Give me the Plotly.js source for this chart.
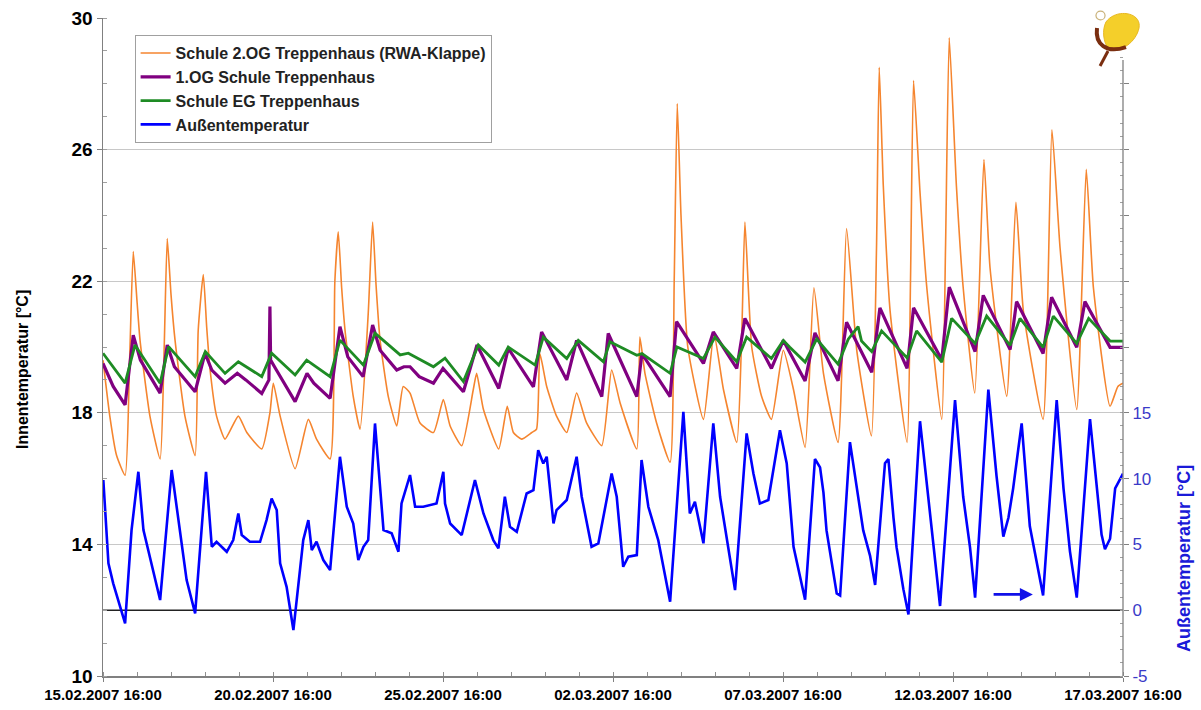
<!DOCTYPE html>
<html>
<head>
<meta charset="utf-8">
<script src="https://cdn.plot.ly/plotly-3.0.1.min.js"></script>
<style>html,body{margin:0;padding:0;background:#fff;}#chart{width:1201px;height:710px;}</style>
</head>
<body>
<div id="chart"></div>
<script>
// Time axis: days elapsed since 15.02.2007 16:00
const START = '2007-02-15 16:00';
const END = '2007-03-17 16:00';

const seriesNames = ['Schule 2.OG Treppenhaus (RWA-Klappe)', '1.OG Schule Treppenhaus', 'Schule EG Treppenhaus', 'Außentemperatur'];

// Schule 2.OG Treppenhaus (RWA-Klappe) [°C]
const og2Days = [0.00,0.20,0.40,0.65,0.78,0.89,1.00,1.09,1.38,1.68,1.80,1.89,2.00,2.12,2.41,2.71,2.80,2.95,3.05,3.15,3.34,3.59,3.98,4.23,4.67,4.91,5.01,5.21,5.65,6.04,6.28,6.68,6.82,6.92,7.02,7.12,7.36,7.56,7.80,7.93,8.03,8.15,8.39,8.64,8.83,9.03,9.32,9.72,10.01,10.21,10.55,10.89,10.99,11.19,11.64,11.89,12.07,12.31,12.61,12.75,12.85,13.05,13.34,13.64,13.93,14.22,14.67,14.96,15.21,15.70,15.79,15.94,16.28,16.68,16.80,16.89,17.00,17.20,17.66,17.97,18.25,18.64,18.79,18.88,19.08,19.37,19.66,20.01,20.31,20.65,20.91,21.19,21.62,21.87,22.17,22.60,22.75,22.83,22.95,23.15,23.65,23.75,23.84,24.03,24.23,24.67,24.78,24.89,25.10,25.30,25.64,25.91,26.09,26.58,26.85,27.07,27.65,27.91,28.15,28.64,28.92,29.13,29.62,29.85,30.00];
const og2Vals = [19.6,17.9,16.7,16.1,19.5,22.9,21.4,20.2,17.9,16.6,20.0,23.3,21.6,20.2,17.9,16.7,20.5,22.2,20.6,19.3,17.9,17.2,17.9,17.4,16.9,18.0,18.9,17.9,16.3,17.8,17.2,16.6,22.0,23.5,21.8,20.5,18.5,17.5,21.0,23.8,21.9,20.2,18.5,17.6,18.8,18.6,17.7,17.4,18.4,17.6,17.0,18.7,19.2,18.1,16.9,18.2,17.4,17.2,17.4,17.5,19.8,18.8,17.9,17.4,18.6,17.7,17.0,19.3,18.3,16.9,20.3,19.2,17.7,16.5,22.0,27.4,24.0,20.0,17.8,20.4,18.7,17.1,20.5,23.8,20.0,18.5,17.8,19.9,18.7,16.95,21.8,19.2,17.1,23.6,19.9,17.3,23.0,28.5,24.9,21.1,17.1,22.0,28.1,24.7,21.8,17.8,23.0,29.4,24.9,21.8,18.6,25.7,22.4,18.5,24.4,21.1,17.8,26.6,23.0,18.1,25.4,21.8,18.2,18.8,18.9];

// 1.OG Schule Treppenhaus [°C]
const og1Days = [0.00,0.30,0.65,0.89,1.10,1.68,1.89,2.10,2.71,3.00,3.20,3.59,3.95,4.20,4.67,4.88,4.91,4.93,5.10,5.65,6.00,6.20,6.68,6.97,7.20,7.65,7.93,8.15,8.64,8.85,9.03,9.30,9.72,10.00,10.60,11.00,11.64,11.92,12.66,12.90,13.64,13.93,14.67,14.86,15.70,15.85,16.68,16.87,17.66,17.95,18.64,18.88,19.66,20.01,20.65,20.94,21.62,21.87,22.61,22.85,23.65,23.84,24.67,24.89,25.65,25.89,26.68,26.87,27.65,27.90,28.64,28.88,29.62,30.00];
const og1Vals = [19.5,18.8,18.24,20.36,19.6,18.6,20.06,19.4,18.64,19.81,19.3,18.9,19.2,19.0,18.59,19.0,21.23,19.6,19.3,18.34,19.2,18.9,18.44,20.62,19.7,19.1,20.67,19.9,19.3,19.4,19.4,19.1,18.9,19.35,18.64,20.06,18.74,19.96,18.79,20.46,19.0,20.2,18.49,20.41,18.49,19.8,18.49,20.77,19.5,20.46,19.35,20.87,19.35,20.2,18.97,20.43,18.97,20.75,19.23,21.19,19.35,21.19,19.61,21.82,19.86,21.57,19.92,21.38,19.8,21.51,19.99,21.38,19.99,19.99];

// Schule EG Treppenhaus [°C]
const egDays = [0.00,0.65,0.94,1.68,1.93,2.71,3.01,3.59,3.98,4.67,4.96,5.65,5.99,6.68,6.97,7.66,8.00,8.74,8.98,9.72,10.06,10.60,11.04,11.64,11.92,12.71,12.95,13.64,13.98,14.72,14.91,15.70,15.85,16.68,16.88,17.66,18.00,18.64,18.93,19.66,20.01,20.20,20.65,20.99,21.62,21.92,22.21,22.31,22.61,22.90,23.65,23.93,24.67,24.96,25.65,25.99,26.68,26.97,27.65,27.95,28.64,28.99,29.62,30.00];
const egVals = [19.81,18.90,20.06,18.90,20.01,19.10,19.86,19.20,19.55,19.10,19.81,19.15,19.60,19.10,20.21,19.45,20.42,19.76,19.81,19.40,19.66,18.95,20.06,19.45,20.00,19.45,20.30,19.65,20.20,19.55,20.16,19.75,19.80,19.20,20.00,19.65,20.30,19.55,20.30,19.65,20.20,19.99,19.54,20.24,19.48,20.24,20.62,20.18,19.86,20.49,19.67,20.49,19.54,20.87,20.11,20.94,20.05,20.87,19.99,20.94,20.11,20.87,20.18,20.18];

// Außentemperatur [°C] (right axis)
const outDays = [0.01,0.16,0.30,0.50,0.65,0.84,1.04,1.19,1.38,1.68,2.02,2.26,2.46,2.71,3.03,3.20,3.34,3.64,3.83,3.98,4.08,4.32,4.62,4.81,4.96,5.11,5.21,5.40,5.60,5.89,6.04,6.14,6.28,6.48,6.68,6.97,7.17,7.36,7.51,7.66,7.80,8.00,8.25,8.49,8.69,8.78,9.03,9.18,9.42,9.81,10.01,10.06,10.21,10.55,10.94,11.19,11.48,11.63,11.82,11.97,12.17,12.46,12.66,12.80,12.95,13.05,13.25,13.34,13.64,13.93,14.08,14.37,14.57,14.96,15.11,15.30,15.45,15.70,15.84,16.04,16.33,16.68,17.07,17.26,17.41,17.66,17.95,18.15,18.44,18.59,18.93,19.13,19.32,19.57,19.91,20.11,20.31,20.65,20.94,21.09,21.19,21.28,21.58,21.68,21.97,22.17,22.36,22.56,22.71,23.00,23.10,23.25,23.34,23.54,23.69,24.03,24.23,24.42,24.62,25.06,25.30,25.50,25.65,26.04,26.28,26.48,26.63,26.77,27.02,27.26,27.51,27.65,28.05,28.25,28.44,28.64,29.03,29.23,29.37,29.47,29.62,29.77,30.00];
const outVals = [9.89,3.56,2.04,0.27,-1.0,6.09,10.52,6.09,4.06,0.77,10.65,6.09,2.29,-0.24,10.52,4.82,5.20,4.44,5.33,7.35,5.71,5.20,5.20,6.85,8.49,7.61,3.56,1.78,-1.51,5.33,6.85,4.57,5.20,3.81,3.05,11.66,7.86,6.59,3.81,4.82,5.33,14.19,6.09,5.84,4.44,8.11,10.27,7.86,7.86,8.11,10.52,8.11,6.59,5.71,9.89,7.35,5.33,4.70,8.62,6.34,5.96,8.87,9.13,12.16,11.15,11.66,6.59,7.61,8.37,11.66,8.62,4.82,5.08,10.39,8.62,3.30,4.06,4.19,11.41,7.86,5.33,0.65,15.08,7.35,8.24,5.08,14.19,8.62,3.81,1.53,13.43,10.39,8.11,8.37,13.68,11.15,4.82,0.80,11.49,10.85,8.94,6.06,1.28,1.12,12.77,9.26,6.06,4.15,1.92,11.17,11.49,7.02,4.79,1.60,-0.32,14.36,9.58,5.43,0.32,15.96,8.62,4.79,0.96,16.76,10.21,5.59,7.02,9.26,14.20,6.38,3.19,1.12,15.96,9.26,4.47,0.96,14.52,9.58,5.75,4.63,5.43,9.26,10.37];

const leftTicks = [10,14,18,22,26,30];
const rightTickVals = [-5,0,5,10,15,20,25,30,35,40];
const rightTickText = ['-5','0','5','10','15','','','','',''];

const t0 = Date.UTC(2007,1,15,16,0,0);
function toDate(d){ return new Date(t0 + d*86400000).toISOString().slice(0,16).replace('T',' '); }

const FONT = 'Liberation Sans, Arial, sans-serif';

const traces = [
  {x: og2Days.map(toDate), y: og2Vals, name: seriesNames[0], type:'scatter', mode:'lines', line:{color:'#F5852F', width:1.6, shape:'spline', smoothing:0.5}},
  {x: og1Days.map(toDate), y: og1Vals, name: seriesNames[1], type:'scatter', mode:'lines', line:{color:'#800080', width:3.2}},
  {x: egDays.map(toDate), y: egVals, name: seriesNames[2], type:'scatter', mode:'lines', line:{color:'#1E8B24', width:2.8}},
  {x: outDays.map(toDate), y: outVals, name: seriesNames[3], type:'scatter', mode:'lines', yaxis:'y2', line:{color:'#0000FF', width:2.6}}
];

// pixel -> paper helpers for decorative shapes (plot area 103..1123 x 18..676)
const PL=103, PR=1123, PT=18, PB=676;
function px(x){ return ((x-PL)/(PR-PL)).toFixed(4); }
function py(y){ return ((PB-y)/(PB-PT)).toFixed(4); }

const shapes = [
  {type:'line', xref:'paper', x0:0, x1:1, yref:'y2', y0:0, y1:0, line:{color:'#222', width:1.6}, layer:'below'},
  {type:'line', xref:'paper', x0:1, x1:1, yref:'y2', y0:-5, y1:41.8, line:{color:'#808080', width:1.3}},
  // logo
  {type:'path', xref:'paper', yref:'paper',
   path:'M '+px(1106)+','+py(22)+' C '+px(1116)+','+py(8)+' '+px(1142)+','+py(12)+' '+px(1139)+','+py(28)+' C '+px(1136)+','+py(42)+' '+px(1122)+','+py(52)+' '+px(1109)+','+py(50)+' C '+px(1103)+','+py(42)+' '+px(1102)+','+py(30)+' '+px(1106)+','+py(22)+' Z',
   fillcolor:'#F4CF2A', line:{color:'#E8B820', width:1}},
  {type:'path', xref:'paper', yref:'paper',
   path:'M '+px(1097)+','+py(28)+' C '+px(1095)+','+py(44)+' '+px(1106)+','+py(54)+' '+px(1126)+','+py(47),
   line:{color:'#7A2E10', width:4}},
  {type:'path', xref:'paper', yref:'paper',
   path:'M '+px(1108)+','+py(51)+' L '+px(1100)+','+py(66),
   line:{color:'#7A2E10', width:3}},
  {type:'circle', xref:'paper', yref:'paper', x0:px(1096), x1:px(1105), y0:py(20), y1:py(11), line:{color:'#C9B27A', width:1.2}, fillcolor:'rgba(255,255,255,0)'}
];

const layout = {
  width:1201, height:710,
  margin:{l:103, r:78, t:18, b:34},
  paper_bgcolor:'#fff', plot_bgcolor:'#fff',
  font:{family:FONT, color:'#000'},
  showlegend:true,
  legend:{x:0.031, y:0.974, xanchor:'left', yanchor:'top', bgcolor:'#fff', bordercolor:'#A0A0A0', borderwidth:1,
          font:{family:FONT, size:16, weight:'bold', color:'#222'}, tracegroupgap:0},
  xaxis:{type:'date', range:[START, END], tick0:START, dtick:5*86400000, tickformat:'%d.%m.%Y %H:%M',
         tickfont:{family:FONT, size:15, weight:'bold', color:'#000'}, showgrid:false, zeroline:false,
         showline:true, linecolor:'#808080', linewidth:1.5, ticks:'outside', ticklen:4, tickcolor:'#808080',
         minor:{dtick:86400000, tick0:START, ticks:'inside', ticklen:4, tickcolor:'#909090', showgrid:false}},
  yaxis:{range:[10,30], tickvals:leftTicks, showgrid:true, gridcolor:'#C8C8C8', gridwidth:1.3, zeroline:false,
         showline:true, linecolor:'#808080', linewidth:1.5, ticks:'outside', ticklen:5, tickcolor:'#808080',
         minor:{dtick:1, ticks:'inside', ticklen:4, tickcolor:'#A0A0A0', showgrid:false},
         tickfont:{family:FONT, size:19, weight:'bold', color:'#000'}},
  yaxis2:{overlaying:'y', side:'right', range:[-5,45], tickvals:rightTickVals, ticktext:rightTickText,
          showgrid:false, zeroline:false, showline:false, ticks:'outside', ticklen:5, tickcolor:'#808080',
          minor:{dtick:1, ticks:'inside', ticklen:3, tickcolor:'#A0A0A0', showgrid:false},
          tickfont:{family:FONT, size:17, color:'#3A3AC8'}},
  shapes:shapes,
  annotations:[
    {x:toDate(27.35), y:1.2, xref:'x', yref:'y2', ax:toDate(26.15), ay:1.2, axref:'x', ayref:'y2',
     text:'', showarrow:true, arrowhead:2, arrowsize:1, arrowwidth:2.6, arrowcolor:'#1010E8'},
    {text:'Innentemperatur [°C]', xref:'paper', yref:'paper', x:px(22), y:py(370), xanchor:'center', yanchor:'middle',
     textangle:-90, showarrow:false, font:{family:FONT, size:16, weight:'bold', color:'#000'}},
    {text:'Außentemperatur [°C]', xref:'paper', yref:'paper', x:px(1184), y:py(558), xanchor:'center', yanchor:'middle',
     textangle:-90, showarrow:false, font:{family:FONT, size:18, weight:'bold', color:'#1A1AD8'}}
  ]
};

Plotly.newPlot('chart', traces, layout, {staticPlot:true, displayModeBar:false});
</script>
</body>
</html>
